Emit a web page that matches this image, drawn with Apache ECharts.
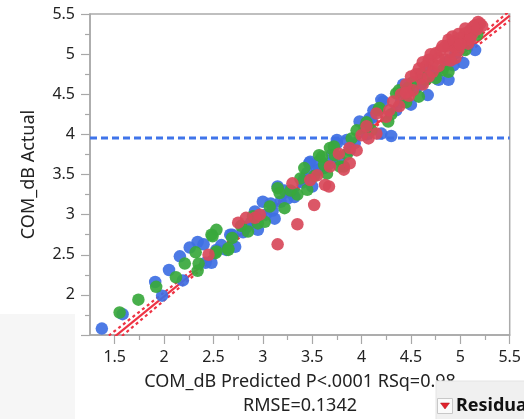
<!DOCTYPE html>
<html>
<head>
<meta charset="utf-8">
<script src="https://cdn.jsdelivr.net/npm/echarts@6/dist/echarts.min.js"></script>
<style>html,body{margin:0;padding:0;background:#fff}#c{width:524px;height:419px}</style>
</head>
<body>
<div id="c"></div>
<script>
// ---- data ----
const xTickValues = [1.5, 2, 2.5, 3, 3.5, 4, 4.5, 5, 5.5];
const xMinorTickValues = [1.75, 2.25, 2.75, 3.25, 3.75, 4.25, 4.75, 5.25];
const xTitle = 'COM_dB Predicted P<.0001 RSq=0.98';
const xTitle2 = 'RMSE=0.1342';
const yTitle = 'COM_dB Actual';
const meanY = 3.955;

const bluePts = [
 [1.37,1.58],[1.58,1.76],[1.98,1.99],[1.91,2.16],[2.05,2.31],[2.19,2.18],[2.16,2.48],[2.26,2.59],
 [2.34,2.66],[2.40,2.63],[2.42,2.40],[2.48,2.40],[2.63,2.56],[2.69,2.75],[2.53,2.56],[2.67,2.75],
 [2.72,2.60],[2.83,2.84],[2.92,3.04],[2.95,2.81],[3.03,3.00],[3.12,2.95],[3.00,3.16],[3.08,3.14],
 [3.15,3.35],[3.18,3.16],[3.25,3.20],[3.32,3.22],[3.47,3.64],[3.42,3.45],[3.50,3.35],[3.55,3.56],
 [3.58,3.68],[3.68,3.64],[3.75,3.89],[3.48,3.66],[3.57,3.56],[3.78,3.68],[3.85,3.93],[3.98,4.16],
 [3.93,3.89],[4.10,4.20],[4.30,3.98],[4.20,4.01],[4.22,4.41],[4.42,4.62],[4.35,4.30],[4.50,4.37],
 [4.20,4.43],[4.68,4.80],[4.78,4.68],[4.88,4.68],[5.03,4.89],[5.15,5.05],[4.95,5.01],[4.93,4.86],
 [4.67,4.49],[4.55,4.58],[4.08,4.20],[3.75,3.93],[3.30,3.28],[3.40,3.40],[3.62,3.58],[3.88,3.80],
 [4.05,4.00],[4.40,4.40],[4.60,4.62],[4.85,4.90],[5.08,5.12],[2.58,2.62],[2.88,2.90],[3.10,3.05],
 [3.45,3.52],[3.70,3.75],[4.12,4.30],[4.45,4.55],[4.75,4.75],[2.80,2.78],[3.22,3.30]
];
const greenPts = [
 [1.55,1.78],[1.74,1.94],[1.92,2.10],[2.12,2.22],[2.21,2.39],[2.32,2.53],[2.35,2.39],[2.34,2.30],
 [2.49,2.73],[2.53,2.81],[2.53,2.54],[2.65,2.56],[2.69,2.71],[2.48,2.75],[2.52,2.52],[2.65,2.58],
 [2.85,2.79],[2.95,2.89],[3.02,2.91],[3.07,3.10],[3.15,3.33],[3.17,3.27],[3.22,3.08],[3.35,3.25],
 [3.42,3.58],[3.45,3.31],[3.57,3.74],[3.65,3.51],[3.72,3.85],[3.78,3.60],[3.60,3.72],[3.68,3.83],
 [3.73,3.74],[3.82,3.60],[3.95,4.05],[4.03,4.08],[4.10,4.05],[4.18,4.33],[4.27,4.16],[4.35,4.51],
 [4.48,4.59],[4.60,4.76],[4.17,4.30],[4.38,4.55],[4.65,4.68],[4.82,4.80],[4.95,5.11],[5.17,5.24],
 [4.88,4.78],[4.58,4.47],[4.75,4.70],[5.05,5.05],[4.45,4.40],[4.30,4.25],[3.90,3.95],[3.85,3.75],
 [3.28,3.30],[3.52,3.48],[2.78,2.86],[2.90,2.98],[3.38,3.45],[3.62,3.62],[4.05,4.15],[4.52,4.65]
];
const redPts = [
 [4.55,4.75],[4.60,4.70],[4.65,4.85],[4.68,4.93],[4.72,4.88],[4.75,5.01],[4.78,4.95],[4.80,5.05],
 [4.85,4.93],[4.85,5.10],[4.88,5.11],[4.90,5.02],[4.93,5.15],[4.95,5.08],[4.98,5.05],[5.00,5.20],
 [5.02,5.15],[5.05,5.26],[5.07,5.20],[5.08,5.13],[5.10,5.30],[5.12,5.25],[5.15,5.36],[5.17,5.31],
 [5.20,5.38],[5.22,5.35],[5.18,5.40],[5.13,5.34],[5.05,5.32],[4.98,5.25],[4.92,5.22],[4.88,5.18],
 [4.82,5.10],[4.70,5.00],[4.62,4.90],[4.58,4.82],[4.50,4.72],[4.52,4.55],[4.45,4.62],[4.40,4.50],
 [4.38,4.35],[4.32,4.41],[4.25,4.22],[4.15,4.26],[4.15,4.01],[4.07,3.95],[4.00,3.99],[3.88,3.83],
 [3.68,3.60],[3.67,3.35],[3.63,3.37],[3.55,3.49],[3.48,3.43],[3.30,3.39],[3.52,3.12],[3.35,2.88],
 [3.15,2.63],[2.97,3.00],[2.92,2.96],[2.83,2.96],[2.75,2.90],[2.45,2.50],[3.77,3.76],[3.95,3.80],
 [4.05,4.10],[4.28,4.30],[4.48,4.48],[4.62,4.62],[4.72,4.78],[4.95,4.95],[5.10,5.18],[3.82,3.56],
 [3.88,3.64],[4.45,4.52],[4.68,4.72],[4.78,4.85],[5.00,5.12],[4.90,4.92]
];
// fit line and its confidence curves
const fitLine = [[1.25,1.23],[5.5,5.48]];
const ciUpper = [[1.25,1.31],[2.0,2.03],[2.8,2.81],[3.9,3.905],[4.8,4.815],[5.5,5.54]];
const ciLower = [[1.25,1.15],[2.0,1.93],[2.8,2.75],[3.9,3.855],[4.8,4.745],[5.5,5.42]];

const FONT = '"Noto Sans", sans-serif';
const chart = echarts.init(document.getElementById('c'), null, {renderer: 'canvas'});
const gridL = 90, gridT = 14, gridR = 9, gridB = 84;

const ptStyle = (c) => ({color: c, opacity: 0.92});
chart.setOption({
  animation: false,
  grid: {left: gridL, top: gridT, right: gridR, bottom: gridB, show: true,
         borderColor: '#ababab', borderWidth: 1.5, backgroundColor: '#fff'},
  xAxis: [{
    type: 'value', min: 1.25, max: 5.5, position: 'bottom',
    splitLine: {show: false},
    axisLine: {show: true, onZero: false, lineStyle: {color: '#a8a8a8', width: 1.5}},
    axisTick: {show: true, length: 9, customValues: xTickValues, lineStyle: {color: '#a8a8a8', width: 1.2}},
    axisLabel: {customValues: xTickValues, margin: 14, fontSize: 16, color: '#222', fontFamily: FONT},
  }, {
    type: 'value', min: 1.25, max: 5.5, position: 'bottom',
    splitLine: {show: false},
    axisLine: {show: false},
    axisTick: {show: true, length: 5, customValues: xMinorTickValues, lineStyle: {color: '#a8a8a8', width: 1.2}},
    axisLabel: {show: false, customValues: xMinorTickValues},
  }],
  yAxis: {
    type: 'value', min: 1.5, max: 5.5, interval: 0.5,
    splitLine: {show: false},
    axisLine: {show: true, onZero: false, lineStyle: {color: '#a8a8a8', width: 1.5}},
    axisTick: {show: true, length: 9, lineStyle: {color: '#a8a8a8', width: 1.2}},
    minorTick: {show: true, splitNumber: 2, length: 5, lineStyle: {color: '#a8a8a8', width: 1.2}},
    axisLabel: {margin: 15, fontSize: 16, color: '#222', fontFamily: FONT},
  },
  series: [
    {type: 'line', data: meanLine(), showSymbol: false, silent: true, z: 1,
     lineStyle: {color: '#3f74ea', width: 3, type: [7, 4]}},
    {type: 'line', data: fitLine, showSymbol: false, silent: true, z: 1,
     lineStyle: {color: '#ee3344', width: 2.2}},
    {type: 'line', data: ciUpper, showSymbol: false, silent: true, z: 1, smooth: 0.3,
     lineStyle: {color: '#ee3344', width: 2.2, type: [3, 3]}},
    {type: 'line', data: ciLower, showSymbol: false, silent: true, z: 1, smooth: 0.3,
     lineStyle: {color: '#ee3344', width: 2.2, type: [3, 3]}},
    {type: 'scatter', data: bluePts, symbolSize: 12.5, z: 3, itemStyle: ptStyle('#3e6fe3')},
    {type: 'scatter', data: greenPts, symbolSize: 12.5, z: 3, itemStyle: ptStyle('#38a83c')},
    {type: 'scatter', data: redPts, symbolSize: 12.5, z: 3, itemStyle: ptStyle('#d8495a')},
  ],
  graphic: [
    {type: 'text', z: 100, x: 29, y: (gridT + 419 - gridB) / 2, rotation: Math.PI / 2,
     style: {text: yTitle, font: '18px ' + FONT, fill: '#222', align: 'center', verticalAlign: 'middle'}},
    {type: 'text', z: 100, x: 300, y: 382,
     style: {text: xTitle, font: '18px ' + FONT, fill: '#222', align: 'center', verticalAlign: 'middle'}},
    {type: 'text', z: 100, x: 300, y: 406,
     style: {text: xTitle2, font: '18px ' + FONT, fill: '#222', align: 'center', verticalAlign: 'middle'}},
    // bottom-left grey panel (window background)
    {type: 'rect', z: 101, shape: {x: 0, y: 314, width: 75, height: 105}, style: {fill: '#f6f6f6'}},
    // "Residuals" outline box at the bottom right
    {type: 'rect', z: 101, shape: {x: 436, y: 381, width: 90, height: 40}, style: {fill: '#f0f0f0', stroke: '#e4e4e4', lineWidth: 1}},
    {type: 'rect', z: 102, shape: {x: 437.5, y: 398.5, width: 15, height: 15}, style: {fill: '#fafafa', stroke: '#c8c8c8', lineWidth: 1}},
    {type: 'polygon', z: 103, shape: {points: [[440.5, 403], [449.5, 403], [445, 409]]}, style: {fill: '#e0212b', stroke: '#b0101a', lineWidth: 0.5}},
    {type: 'text', z: 103, x: 456, y: 406,
     style: {text: 'Residuals', font: 'bold 18px ' + FONT, fill: '#111', align: 'left', verticalAlign: 'middle'}},
  ]
});
function meanLine() { return [[1.25, meanY], [5.5, meanY]]; }
</script>
</body>
</html>
